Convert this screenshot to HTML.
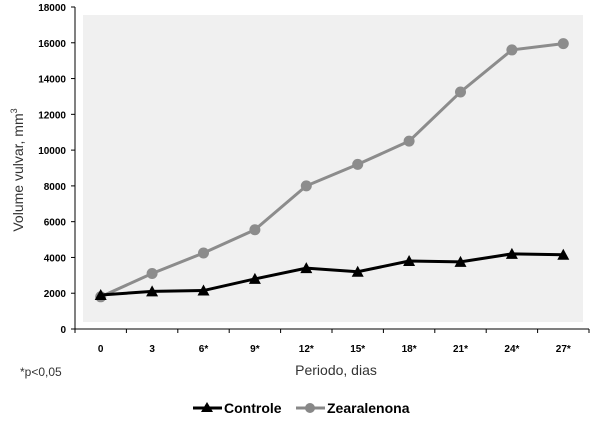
<!DOCTYPE html>
<html><head><meta charset="utf-8"><style>
body{margin:0;background:#fff;font-family:"Liberation Sans",Arial,sans-serif}
svg text{font-family:"Liberation Sans",Arial,sans-serif}
</style></head><body>
<svg id="c" width="600" height="423" xmlns="http://www.w3.org/2000/svg">
<rect x="83" y="15" width="500" height="307" fill="#f0f0f0"/>
<g id="axes"></g><g id="series"></g>
<text x="20" y="376" font-size="12" fill="#333">*p&lt;0,05</text>
<text x="336" y="375" font-size="14" fill="#333" text-anchor="middle">Periodo,  dias</text>
<text transform="translate(23,170) rotate(-90)" font-size="14" fill="#333" text-anchor="middle">Volume vulvar, mm<tspan font-size="9" dy="-6">3</tspan></text>
<g>
<g>
<line x1="193" y1="408" x2="222" y2="408" stroke="#000" stroke-width="3"/>
<polygon points="207,402 213,412 201,412" fill="#000"/>
<text x="224" y="413" font-size="14" font-weight="bold">Controle</text></g>
<g>
<line x1="296" y1="408" x2="325" y2="408" stroke="#888" stroke-width="3"/>
<circle cx="310" cy="408" r="5" fill="#888"/>
<text x="327" y="413" font-size="14" font-weight="bold">Zearalenona</text></g>
</g>
</svg>
<script>
const categories=["0","3","6*","9*","12*","15*","18*","21*","24*","27*"];
const controle=[1900,2100,2150,2800,3400,3200,3800,3750,4200,4150];
const zearalenona=[1800,3100,4250,5550,8000,9200,10500,13250,15600,15950];
const yTicks=[0,2000,4000,6000,8000,10000,12000,14000,16000,18000];
const NS="http://www.w3.org/2000/svg";
const x0=75,x1=589,y0=329,y1=7,yMax=18000;
const step=(x1-x0)/categories.length;
const xs=i=>x0+step*(i+0.5);
const ys=v=>y0-(v/yMax)*(y0-y1);
function mk(t,a,p){const e=document.createElementNS(NS,t);for(const k in a)e.setAttribute(k,a[k]);p.appendChild(e);return e;}
const ax=document.getElementById('axes'),se=document.getElementById('series');
let l=mk('line',{x1:x0,y1:y1,x2:x0,y2:y0,stroke:'#000','stroke-width':1},ax);


l=mk('line',{x1:x0,y1:y0,x2:x1,y2:y0,stroke:'#000','stroke-width':1},ax);


yTicks.forEach(v=>{const y=ys(v);
mk('line',{x1:x0-4,y1:y,x2:x0,y2:y,stroke:'#000'},ax);
const t=mk('text',{x:x0-9,y:y+4,'font-size':10,'font-weight':'bold','text-anchor':'end'},ax);t.textContent=v;

});
for(let i=0;i<=categories.length;i++){const x=x0+step*i;mk('line',{x1:x,y1:y0,x2:x,y2:y0+4,stroke:'#000'},ax);}
categories.forEach((c,i)=>{const t=mk('text',{x:xs(i),y:352,'font-size':10,'font-weight':'bold','text-anchor':'middle'},ax);t.textContent=c;

});
function series(data,color,kind,name){
const p=mk('polyline',{points:data.map((v,i)=>xs(i)+','+ys(v)).join(' '),fill:'none',stroke:color,'stroke-width':3},se);


data.forEach((v,i)=>{const x=xs(i),y=ys(v);let m;
if(kind==='c')m=mk('circle',{cx:x,cy:y,r:5.5,fill:color},se);
else m=mk('polygon',{points:`${x},${y-6} ${x+6},${y+5} ${x-6},${y+5}`,fill:color},se);

});}
series(zearalenona,'#8c8c8c','c','zearalenona');
series(controle,'#000','t','controle');
</script>
</body></html>
